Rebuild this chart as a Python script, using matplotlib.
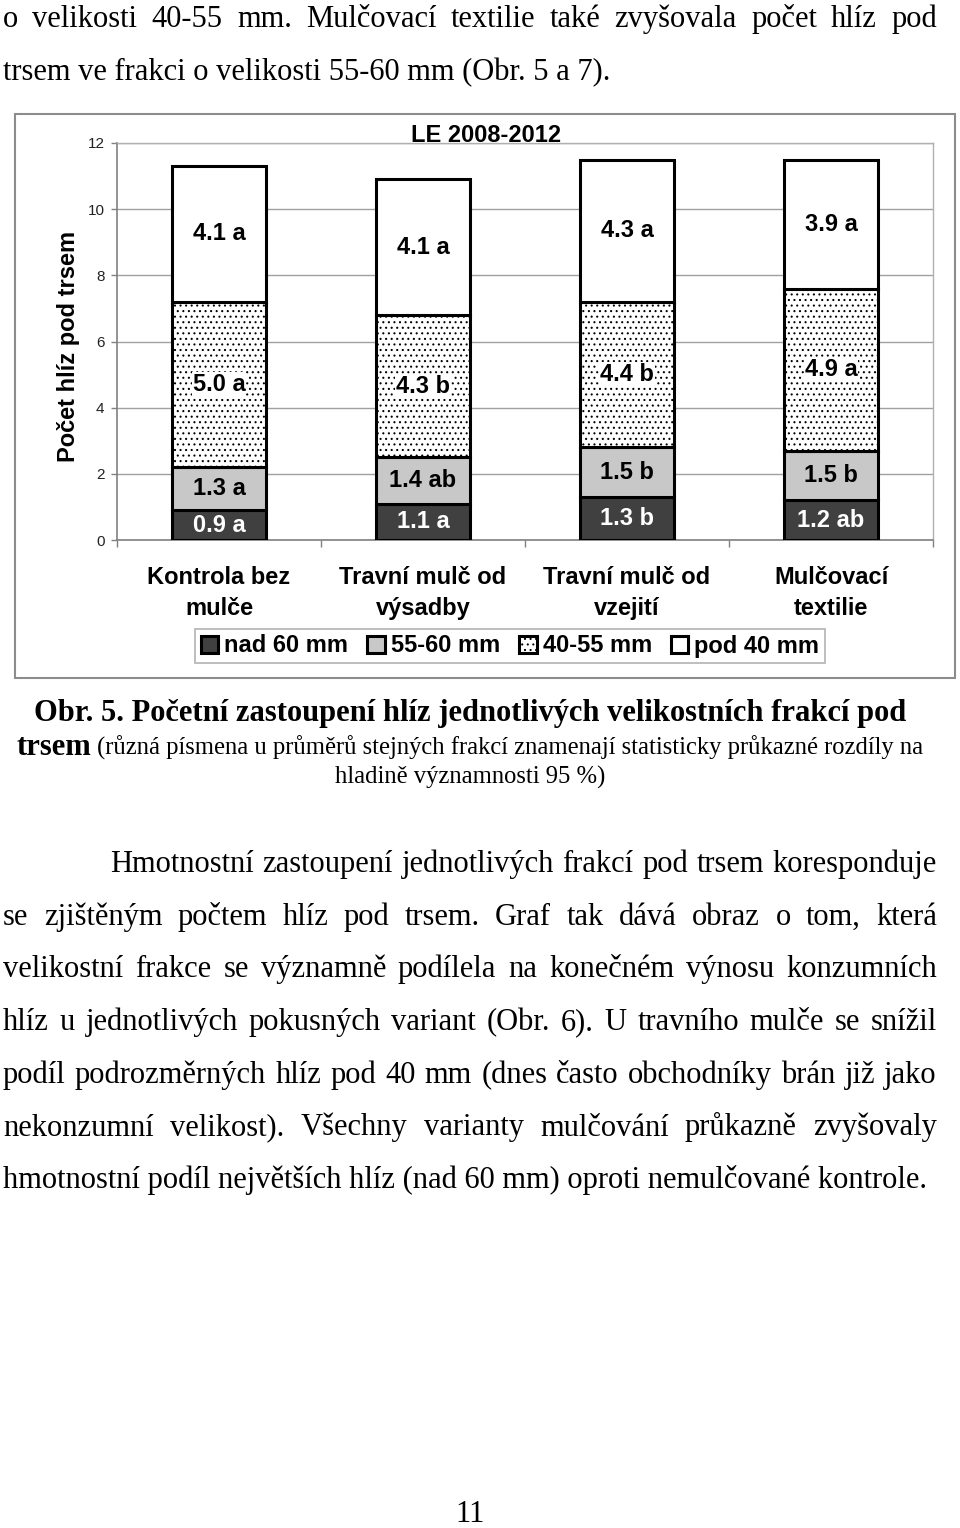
import numpy as np
import matplotlib
matplotlib.use("Agg")
import matplotlib.pyplot as plt
from matplotlib.patches import Rectangle

# ---- data -------------------------------------------------------------------
categories = ["Kontrola bez\nmulče", "Travní mulč od\nvýsadby",
              "Travní mulč od\nvzejití", "Mulčovací\ntextilie"]
fractions = ["nad 60 mm", "55-60 mm", "40-55 mm", "pod 40 mm"]
nad60 = [0.9, 1.1, 1.3, 1.2]
f55_60 = [1.3, 1.4, 1.5, 1.5]
f40_55 = [5.0, 4.3, 4.4, 4.9]
pod40 = [4.1, 4.1, 4.3, 3.9]
let_nad60 = ["a", "a", "b", "ab"]
let_55_60 = ["a", "ab", "b", "b"]
let_40_55 = ["a", "b", "b", "a"]
let_pod40 = ["a", "a", "a", "a"]
title = "LE 2008-2012"
ylabel = "Počet hlíz pod trsem"
yticks = [0, 2, 4, 6, 8, 10, 12]

top_par = ["o velikosti 40-55 mm. Mulčovací textilie také zvyšovala počet hlíz pod",
           "trsem ve frakci o velikosti 55-60 mm (Obr. 5 a 7)."]
cap_line1 = "Obr. 5. Početní zastoupení hlíz jednotlivých velikostních frakcí pod"
cap_bold2 = "trsem"
cap_line2 = "(různá písmena u průměrů stejných frakcí znamenají statisticky průkazné rozdíly na"
cap_line3 = "hladině významnosti 95 %)"
body_par = ["Hmotnostní zastoupení jednotlivých frakcí pod trsem koresponduje",
            "se zjištěným počtem hlíz pod trsem. Graf tak dává obraz o tom, která",
            "velikostní frakce se významně podílela na konečném výnosu konzumních",
            "hlíz u jednotlivých pokusných variant (Obr. 6). U travního mulče se snížil",
            "podíl podrozměrných hlíz pod 40 mm (dnes často obchodníky brán již jako",
            "nekonzumní velikost). Všechny varianty mulčování průkazně zvyšovaly",
            "hmotnostní podíl největších hlíz (nad 60 mm) oproti nemulčované kontrole."]
page_no = "11"

W, H = 960, 1528
SANS = "Liberation Sans"
SERIF = "Liberation Serif"
BODY = 22
plt.rcParams["hatch.linewidth"] = 0.75


def fx(x):
    return x / W


def fy(y):
    return 1 - y / H


fig = plt.figure(figsize=(W / 100, H / 100), dpi=100)
rend = fig.canvas.get_renderer()


def justified(line, x0, x1, y, size, weight="normal"):
    words = line.split()
    arts = [fig.text(fx(x0), fy(y), w, fontsize=size, family=SERIF, weight=weight,
                     va="baseline") for w in words]
    widths = [a.get_window_extent(rend).width for a in arts]
    gap = (x1 - x0 - sum(widths)) / max(len(words) - 1, 1)
    x = x0
    for a, w in zip(arts, widths):
        a.set_x(fx(x))
        x += w + gap


# ---- chart ------------------------------------------------------------------
fig.add_artist(Rectangle((fx(15), fy(678)), fx(955) - fx(15), fy(114) - fy(678),
                         transform=fig.transFigure, fill=False, ec="#8c8c8c", lw=1.5))
ax = fig.add_axes([fx(117), fy(540), fx(933) - fx(117), fy(143) - fy(540)])
x = np.arange(len(categories))
series = [nad60, f55_60, f40_55, pod40]
letters = [let_nad60, let_55_60, let_40_55, let_pod40]
faces = ["#404040", "#c8c8c8", "white", "white"]
hatches = [None, None, "...", None]
txtcol = ["white", "black", "black", "black"]
bottom = np.zeros(len(categories))
for vals, lets, fc, hc, tc, lab in zip(series, letters, faces, hatches, txtcol, fractions):
    ax.bar(x, vals, 0.456, bottom=bottom, color=fc, hatch=hc, edgecolor="black",
           lw=2.2, label=lab, zorder=3)
    for xi, b, v, l in zip(x, bottom, vals, lets):
        bb = dict(facecolor="white", edgecolor="none", pad=0.5) if hc else None
        ax.text(xi, b + v / 2, f"{v:.1f} {l}", ha="center", va="center", color=tc,
                fontsize=17, fontweight="bold", family=SANS, zorder=4, bbox=bb)
    bottom += np.array(vals)

ax.set_xlim(-0.5, 3.5)
ax.set_ylim(0, 12)
ax.set_yticks(yticks)
ax.set_yticklabels([str(t) for t in yticks], fontsize=11, family=SANS, color="#222222")
ax.set_xticks(x)
ax.set_xticklabels(categories, fontsize=17, fontweight="bold", family=SANS, linespacing=1.45)
ax.set_xticks(np.arange(-0.5, 4, 1.0), minor=True)
ax.tick_params(axis="x", which="major", length=0, pad=19)
ax.tick_params(axis="x", which="minor", length=5, width=1, color="#808080")
ax.tick_params(axis="y", length=4, width=1, color="#808080", pad=5)
ax.yaxis.grid(True, color="#a0a0a0", lw=1)
ax.set_axisbelow(True)
for s in ["left", "bottom"]:
    ax.spines[s].set_color("#808080")
    ax.spines[s].set_linewidth(1.2)
for s in ["top", "right"]:
    ax.spines[s].set_color("#b0b0b0")
    ax.spines[s].set_linewidth(1)
fig.text(fx(486), fy(135), title, ha="center", va="center", fontsize=17,
         fontweight="bold", family=SANS)
fig.text(fx(68), fy(346), ylabel, ha="center", va="center", rotation=90, fontsize=17,
         fontweight="bold", family=SANS)
leg = ax.legend(loc="center", bbox_to_anchor=(fx(510), fy(646)), bbox_transform=fig.transFigure,
                ncol=4, frameon=True, fancybox=False, edgecolor="#a0a0a0", borderpad=0.25,
                handlelength=0.75, handleheight=0.75, handletextpad=0.25, columnspacing=0.8,
                prop={"family": SANS, "weight": "bold", "size": 17})
leg.get_frame().set_linewidth(1.2)

# ---- page text ---------------------------------------------------------------
justified(top_par[0], 3, 937, 27, BODY)
fig.text(fx(3), fy(80), top_par[1], fontsize=BODY, family=SERIF, va="baseline")

fig.text(fx(470), fy(721), cap_line1, ha="center", va="baseline", fontsize=22,
         fontweight="bold", family=SERIF)
tb = fig.text(0, fy(755), cap_bold2, fontsize=22, fontweight="bold", family=SERIF, va="baseline")
tn = fig.text(0, fy(755), cap_line2, fontsize=17.7, family=SERIF, va="baseline")
wb = tb.get_window_extent(rend).width
wn = tn.get_window_extent(rend).width
sp = 6
x0 = 470 - (wb + sp + wn) / 2
tb.set_x(fx(x0))
tn.set_x(fx(x0 + wb + sp))
fig.text(fx(470), fy(784), cap_line3, ha="center", va="baseline", fontsize=17.7, family=SERIF)

for i, line in enumerate(body_par):
    yb = 872 + i * 52.7
    if i == 0:
        justified(line, 110, 937, yb, BODY)
    elif i < len(body_par) - 1:
        justified(line, 3, 937, yb, BODY)
    else:
        fig.text(fx(3), fy(yb), line, fontsize=BODY, family=SERIF, va="baseline")

fig.text(fx(470), fy(1522), page_no, ha="center", va="baseline", fontsize=22, family=SERIF)

fig.savefig("out.png", dpi=100)
